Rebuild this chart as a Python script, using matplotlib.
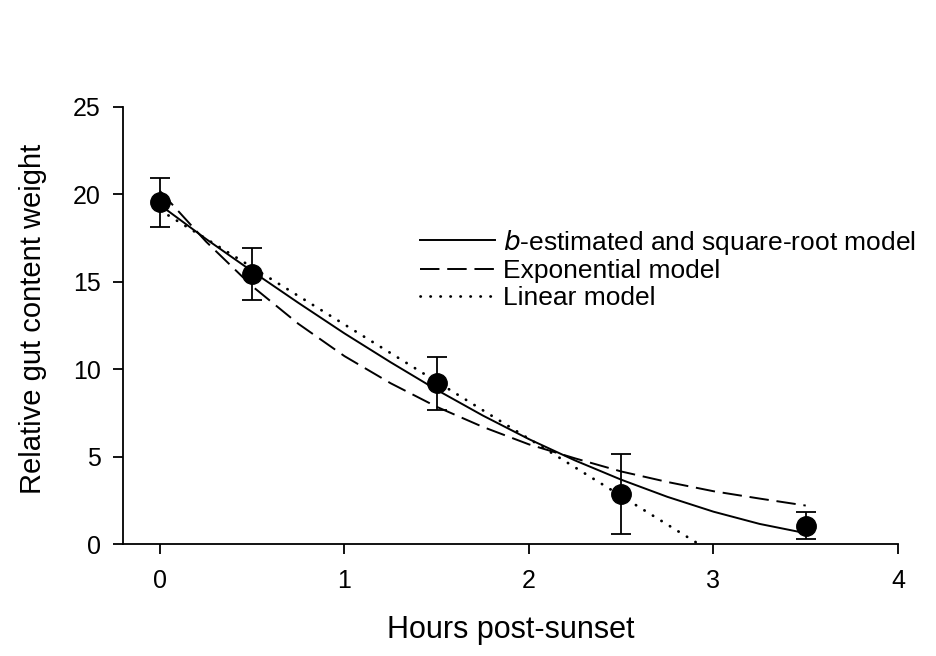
import numpy as np
import matplotlib.pyplot as plt

plt.rcParams['font.family'] = ['Liberation Sans', 'DejaVu Sans']

# observed means and standard errors
hours = [0, 0.5, 1.5, 2.5, 3.5]
gut_weight = [19.55, 15.45, 9.2, 2.86, 1.05]
gut_err = [1.4, 1.5, 1.52, 2.3, 0.76]

# fitted model curves
t_curve = [0, 0.25, 0.5, 0.75, 1.0, 1.25, 1.5, 1.75, 2.0, 2.25, 2.5, 2.75, 3.0, 3.25, 3.5]
sqrt_model = [19.4, 17.45, 15.6, 13.8, 12.05, 10.4, 8.82, 7.35, 6.0, 4.78, 3.68, 2.7, 1.85, 1.15, 0.62]
exp_model = [20.2, 17.3, 14.75, 12.6, 10.75, 9.2, 7.85, 6.7, 5.7, 4.9, 4.15, 3.55, 3.02, 2.6, 2.2]
t_linear = [0, 2.92]
linear_model = [19.1, 0.0]

fig = plt.figure(figsize=(9.36, 6.56), dpi=100)
ax = fig.add_axes([0.1314, 0.1707, 0.828, 0.6662])

ax.plot(t_curve, sqrt_model, color='black', lw=1.4, label='$b$-estimated and square-root model')
ax.plot(t_curve, exp_model, color='black', lw=1.4, linestyle=(0, (10, 4)), label='Exponential model')
ax.plot(t_linear, linear_model, color='black', lw=2.0, linestyle=(0, (0.1, 3.5)),
        dash_capstyle='round', label='Linear model')
ax.errorbar(hours, gut_weight, yerr=gut_err, fmt='o', color='black', ms=14,
            capsize=7.5, elinewidth=1.3, capthick=1.3, zorder=5)

ax.set_xlim(-0.2, 4)
ax.set_ylim(0, 25)
ax.set_xticks([0, 1, 2, 3, 4])
ax.set_yticks([0, 5, 10, 15, 20, 25])
ax.spines['top'].set_visible(False)
ax.spines['right'].set_visible(False)
for s in ['left', 'bottom']:
    ax.spines[s].set_linewidth(1.3)
ax.tick_params(direction='out', length=7, width=1.3, labelsize=18)
ax.tick_params(axis='y', pad=9)
ax.tick_params(axis='x', pad=11)

ax.set_xlabel('Hours post-sunset', fontsize=22, labelpad=16)
ax.set_ylabel('Relative gut content weight', fontsize=21)
ax.yaxis.set_label_coords(-0.098, 0.515)

leg = ax.legend(loc='upper left', bbox_to_anchor=(0.449, 0.653), bbox_transform=fig.transFigure,
                frameon=False, fontsize=19, handlelength=2.85, handletextpad=0.3,
                labelspacing=0.1, borderpad=0, borderaxespad=0)

fig.savefig('out.png', dpi=100)
